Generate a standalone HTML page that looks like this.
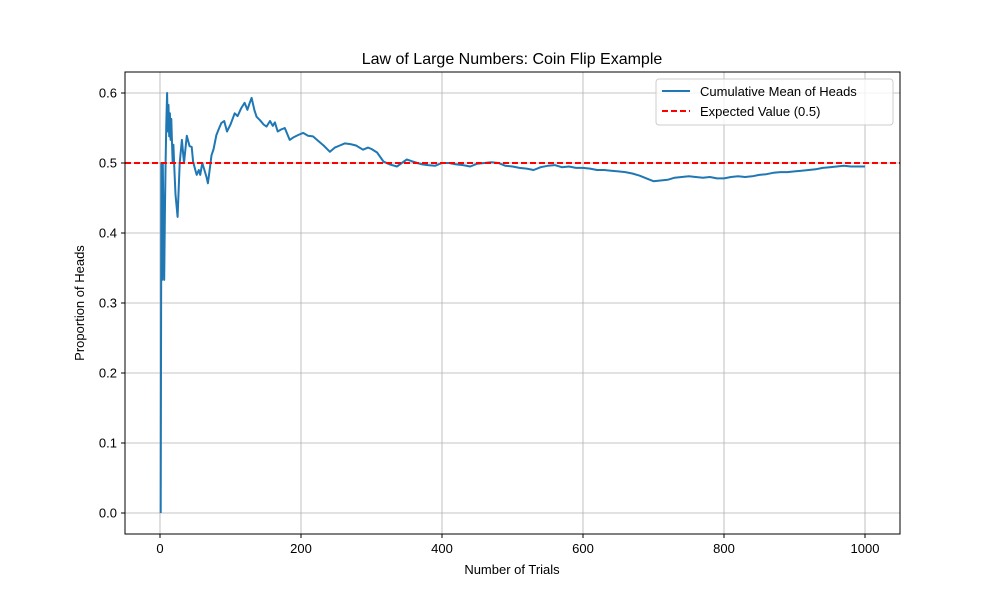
<!DOCTYPE html>
<html><head><meta charset="utf-8"><style>
body{margin:0;background:#fff;}
svg text{font-family:"Liberation Sans","DejaVu Sans",sans-serif;}
</style></head><body>
<svg id="chart" width="1000" height="600" xmlns="http://www.w3.org/2000/svg">
<rect width="1000" height="600" fill="#fff"/>
<g id="grid"></g>
<g id="marks"></g>
<rect x="125" y="72" width="775" height="462" fill="none" stroke="#000" stroke-width="1"/>
<g id="ticks"></g>
<text x="512" y="64" font-size="16" text-anchor="middle">Law of Large Numbers: Coin Flip Example</text>
<text x="512" y="574" font-size="13" text-anchor="middle">Number of Trials</text>
<text x="84" y="303" font-size="13" text-anchor="middle" transform="rotate(-90 84 303)">Proportion of Heads</text>
<g>
<rect x="656" y="79" width="237" height="46" rx="3" fill="#fff" fill-opacity="0.8" stroke="#ccc"/>
<line x1="662" y1="91" x2="690" y2="91" stroke="#1f77b4" stroke-width="2"/>
<text x="700" y="96" font-size="13">Cumulative Mean of Heads</text>
<line x1="662" y1="111" x2="690" y2="111" stroke="red" stroke-width="2" stroke-dasharray="6,3"/>
<text x="700" y="116" font-size="13">Expected Value (0.5)</text>
</g>
</svg>
<script>
const trials=[1,2,3,4,5,6,7,8,9,10,11,12,13,14,15,16,17,18,19,20,22,25,28,31,34,38,42,45,47,50,52,55,57,60,63,66,68,70,73,76,80,84,87,91,95,100,106,110,115,120,124,127,130,134,137,142,147,151,156,160,163,167,172,177,184,190,196,203,210,217,224,232,241,248,255,262,270,278,288,295,300,308,317,326,336,343,350,356,365,372,380,390,400,410,420,430,440,450,460,470,480,490,500,510,520,530,540,550,560,570,580,590,600,610,620,630,640,650,660,670,680,690,700,710,720,730,740,750,760,770,780,790,800,810,820,830,840,850,860,870,880,890,900,910,920,930,940,950,960,970,980,990,1000];
const means=[0,0.5,0.333,0.5,0.4,0.333,0.429,0.5,0.556,0.6,0.545,0.583,0.538,0.571,0.533,0.563,0.529,0.5,0.526,0.5,0.455,0.423,0.5,0.533,0.5,0.539,0.524,0.523,0.502,0.49,0.483,0.49,0.483,0.5,0.49,0.48,0.471,0.486,0.511,0.52,0.54,0.55,0.557,0.56,0.545,0.555,0.571,0.567,0.578,0.586,0.576,0.585,0.593,0.575,0.566,0.561,0.555,0.552,0.56,0.553,0.558,0.545,0.548,0.55,0.533,0.537,0.54,0.543,0.539,0.538,0.532,0.525,0.516,0.522,0.525,0.528,0.527,0.525,0.519,0.522,0.52,0.515,0.502,0.498,0.495,0.5,0.505,0.503,0.5,0.498,0.497,0.496,0.5,0.5,0.498,0.497,0.495,0.499,0.5,0.501,0.5,0.496,0.495,0.493,0.492,0.49,0.494,0.496,0.497,0.494,0.495,0.493,0.493,0.492,0.49,0.49,0.489,0.488,0.487,0.485,0.482,0.478,0.474,0.475,0.476,0.479,0.48,0.481,0.48,0.479,0.48,0.478,0.478,0.48,0.481,0.48,0.481,0.483,0.484,0.486,0.487,0.487,0.488,0.489,0.49,0.491,0.493,0.494,0.495,0.496,0.495,0.495,0.495];
const xTicks=[0,200,400,600,800,1000];
const yTicks=[0.0,0.1,0.2,0.3,0.4,0.5,0.6];
const expected=[0.5];
const X=v=>160+v*0.705, Y=v=>513-v*700;
const NS="http://www.w3.org/2000/svg";
function mk(tag,attrs,parent){const e=document.createElementNS(NS,tag);for(const k in attrs)e.setAttribute(k,attrs[k]);document.getElementById(parent).appendChild(e);return e;}
xTicks.forEach(t=>{
 const g=mk('line',{x1:X(t),x2:X(t),y1:72,y2:534,stroke:'#b0b0b0','stroke-width':0.8},'grid');
 
 
 mk('line',{x1:X(t),x2:X(t),y1:534,y2:538,stroke:'#000'},'ticks');
 const tx=mk('text',{x:X(t),y:553,'font-size':13,'text-anchor':'middle'},'ticks');tx.textContent=t;
 
 
});
yTicks.forEach(t=>{
 const g=mk('line',{x1:125,x2:900,y1:Y(t),y2:Y(t),stroke:'#b0b0b0','stroke-width':0.8},'grid');
 
 
 mk('line',{x1:121,x2:125,y1:Y(t),y2:Y(t),stroke:'#000'},'ticks');
 const tx=mk('text',{x:117,y:Y(t)+4.5,'font-size':13,'text-anchor':'end'},'ticks');tx.textContent=t.toFixed(1);
 
 
});
const d=trials.map((t,i)=>(i?'L':'M')+X(t).toFixed(1)+','+Y(means[i]).toFixed(1)).join('');
const p=mk('path',{d:d,fill:'none',stroke:'#1f77b4','stroke-width':2,'stroke-linejoin':'round'},'marks');


const h=mk('line',{x1:125,x2:900,y1:Y(expected[0]),y2:Y(expected[0]),stroke:'red','stroke-width':2,'stroke-dasharray':'6,3'},'marks');


</script>
</body></html>
